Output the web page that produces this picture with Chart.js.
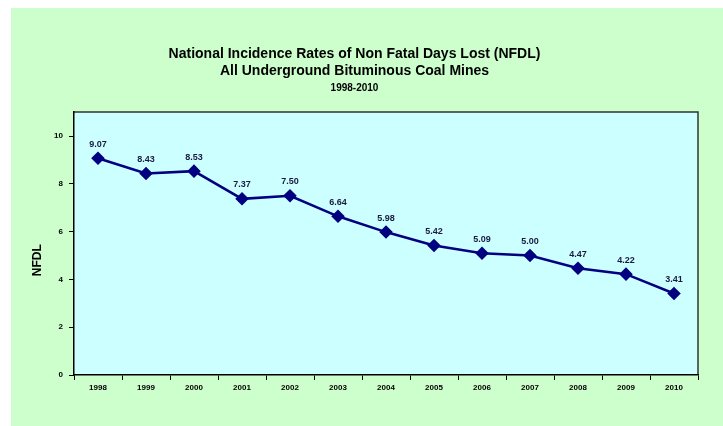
<!DOCTYPE html>
<html>
<head>
<meta charset="utf-8">
<script src="https://cdn.jsdelivr.net/npm/chart.js@4.4.0/dist/chart.umd.min.js"></script>
<style>
    body { margin: 0; background: #ffffff; }
    #wrap { position: absolute; left: 11px; top: 8px; width: 712px; height: 418px; background: #ccffcc; }
</style>
</head>
<body>
<div id="wrap"><canvas id="nfdlChart"></canvas></div>
<script>
const years = ['1998', '1999', '2000', '2001', '2002', '2003', '2004', '2005', '2006', '2007', '2008', '2009', '2010'];
const nfdlRates = [9.07, 8.43, 8.53, 7.37, 7.50, 6.64, 5.98, 5.42, 5.09, 5.00, 4.47, 4.22, 3.41];
const yTickValues = [0, 2, 4, 6, 8, 10];

const fontFamily = "'Liberation Sans', Arial, sans-serif";

// light cyan plot area with dark frame, like the Excel original
const plotFrame = {
    id: 'plotFrame',
    beforeDraw(chart) {
        const { ctx, chartArea: a } = chart;
        ctx.save();
        ctx.fillStyle = '#ccffff';
        ctx.fillRect(a.left, a.top, a.right - a.left, a.bottom - a.top);
        ctx.strokeStyle = '#333333';
        ctx.lineWidth = 1.5;
        ctx.beginPath();
        ctx.moveTo(a.left, a.top);
        ctx.lineTo(a.right, a.top);
        ctx.lineTo(a.right, a.bottom);
        ctx.stroke();
        ctx.restore();
    }
};

const valueLabels = {
    id: 'valueLabels',
    afterDatasetsDraw(chart) {
        const ctx = chart.ctx;
        const meta = chart.getDatasetMeta(0);
        ctx.save();
        ctx.font = 'bold 9px ' + fontFamily;
        ctx.fillStyle = '#1a1a40';
        ctx.textAlign = 'center';
        ctx.textBaseline = 'middle';
        meta.data.forEach((pt, i) => {
            ctx.fillText(nfdlRates[i].toFixed(2), pt.x, pt.y - 14);
        });
        ctx.restore();
    }
};

new Chart(document.getElementById('nfdlChart'), {
    type: 'line',
    data: {
        labels: years,
        datasets: [{
            data: nfdlRates,
            borderColor: '#000080',
            backgroundColor: '#000080',
            borderWidth: 2.5,
            pointStyle: 'rectRot',
            pointRadius: 5,
            pointHoverRadius: 5,
            tension: 0
        }]
    },
    options: {
        responsive: true,
        maintainAspectRatio: false,
        animation: false,
        layout: { padding: { left: 0, right: 25, top: 0, bottom: 0 } },
        plugins: {
            legend: { display: false },
            tooltip: { enabled: false },
            title: {
                display: true,
                text: ['National Incidence Rates of Non Fatal Days Lost (NFDL)', 'All Underground Bituminous Coal Mines'],
                color: '#000000',
                font: { size: 14, weight: 'bold', family: fontFamily },
                lineHeight: 1.38,
                padding: { top: 38, bottom: 0 }
            },
            subtitle: {
                display: true,
                text: '1998-2010',
                color: '#000000',
                font: { size: 10, weight: 'bold', family: fontFamily },
                lineHeight: 1.2,
                padding: { top: 2.5, bottom: 18 }
            }
        },
        scales: {
            x: {
                offset: true,
                grid: { offset: true, drawOnChartArea: false, drawTicks: true, tickLength: 5, color: '#000000' },
                border: { display: true, color: '#000000', width: 1.5 },
                ticks: {
                    color: '#000000',
                    padding: 3,
                    maxRotation: 0,
                    font: { size: 8, weight: 'bold', family: fontFamily }
                },
                afterFit(scale) { scale.height = 51; }
            },
            y: {
                min: 0,
                max: 11,
                grid: { drawOnChartArea: false, drawTicks: true, tickLength: 5, color: '#000000' },
                border: { display: true, color: '#000000', width: 1.5 },
                ticks: {
                    stepSize: 2,
                    color: '#000000',
                    padding: 6,
                    font: { size: 8, weight: 'bold', family: fontFamily }
                },
                afterBuildTicks(scale) {
                    scale.ticks = yTickValues.map(v => ({ value: v }));
                },
                title: {
                    display: true,
                    // trailing spaces push the label a little below the axis centre, as in the original
                    text: 'NFDL          ',
                    color: '#000000',
                    font: { size: 12, weight: 'bold', family: fontFamily },
                    padding: { top: 19, bottom: 0 }
                },
                afterFit(scale) { scale.width = 63; }
            }
        }
    },
    plugins: [plotFrame, valueLabels]
});
</script>
</body>
</html>
